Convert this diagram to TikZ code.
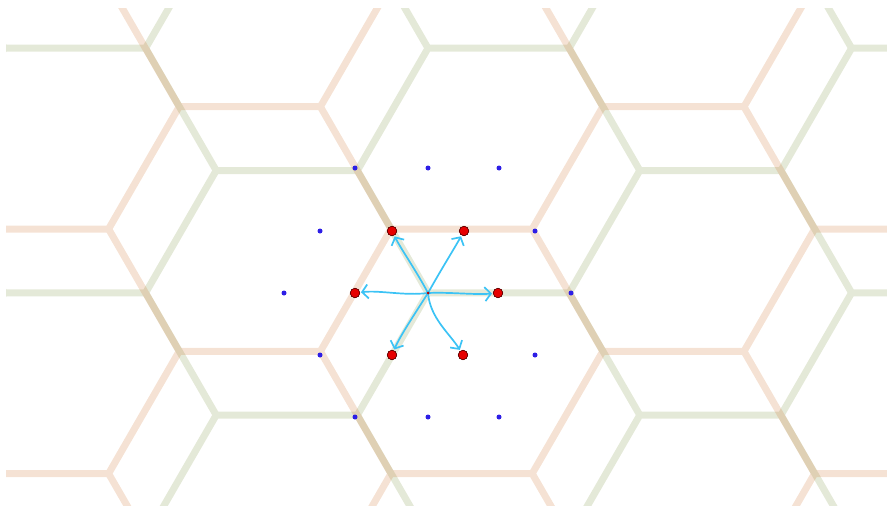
\documentclass[tikz,border=0pt]{standalone}
\usetikzlibrary{arrows.meta}
\definecolor{hexgreen}{RGB}{120,145,60}
\definecolor{hexorange}{RGB}{205,110,40}
\definecolor{arrowblue}{RGB}{60,195,245}
\definecolor{dotblue}{RGB}{45,30,230}
\definecolor{dotred}{RGB}{230,0,0}
\tikzset{
  hexline/.style={line width=7pt, opacity=0.2, line cap=butt, line join=miter},
  reddot/.style={circle, fill=dotred, draw=black!70!red, line width=0.5pt, minimum size=9.5pt, inner sep=0pt},
  bluedot/.style={circle, fill=dotblue, minimum size=5pt, inner sep=0pt},
  centerdot/.style={circle, fill=dotred!80!black, minimum size=3pt, inner sep=0pt},
  vecarrow/.style={draw=arrowblue, line width=1.7pt, line cap=round, -{Straight Barb[length=6pt,width=14pt,line width=1.7pt]}, shorten >=1pt}
}
\begin{document}
\begin{tikzpicture}[x=1pt,y=-1pt]
\useasboundingbox (0,0) rectangle (887,506);
\begin{scope}
\clip (6,8) rectangle (887,506);
% green honeycomb (edge 141.2, row step 122.3)
\draw[hexline, draw=hexgreen]
  \foreach \i in {-3,...,3} { \foreach \j in {-4,...,4} {
    ({428+211.8*\i-70.6},{292.8+122.3*\i+244.6*\j-122.3}) --
    ({428+211.8*\i},{292.8+122.3*\i+244.6*\j}) --
    ({428+211.8*\i+141.2},{292.8+122.3*\i+244.6*\j})
    ({428+211.8*\i},{292.8+122.3*\i+244.6*\j}) --
    ({428+211.8*\i-70.6},{292.8+122.3*\i+244.6*\j+122.3})
  }};
% orange honeycomb
\draw[hexline, draw=hexorange]
  \foreach \i in {-3,...,3} { \foreach \j in {-4,...,4} {
    ({391+211.8*\i-70.6},{229+122.3*\i+244.6*\j-122.3}) --
    ({391+211.8*\i},{229+122.3*\i+244.6*\j}) --
    ({391+211.8*\i+141.2},{229+122.3*\i+244.6*\j})
    ({391+211.8*\i},{229+122.3*\i+244.6*\j}) --
    ({391+211.8*\i-70.6},{229+122.3*\i+244.6*\j+122.3})
  }};
\end{scope}

% second ring (blue)
\foreach \n/\p in {b1/{355,168}, b2/{428,168}, b3/{499,168}, b4/{320,231}, b5/{535,231}, b6/{284,293},
                   b7/{571,293}, b8/{320,355}, b9/{535,355}, b10/{355,417}, b11/{428,417}, b12/{499,417}}
  \node[bluedot] (\n) at (\p) {};

% first ring (red) and centre
\node[centerdot] (c) at (428,293) {};
\node[reddot] (r0) at (498,293) {};
\node[reddot] (r60) at (464,231) {};
\node[reddot] (r120) at (392,231) {};
\node[reddot] (r180) at (355,293) {};
\node[reddot] (r240) at (392,355) {};
\node[reddot] (r300) at (463,355) {};

% vectors
\draw[vecarrow] (c.center) .. controls (450,292) and (475,295) .. (r0);
\draw[vecarrow] (c.center) .. controls (442,268) and (454,249) .. (r60);
\draw[vecarrow] (c.center) .. controls (417,272) and (401,249) .. (r120);
\draw[vecarrow] (c.center) .. controls (404,296) and (380,290) .. (r180);
\draw[vecarrow] (c.center) .. controls (416,312) and (400,336) .. (r240);
\draw[vecarrow] (c.center) .. controls (430,318) and (450,334) .. (r300);

% redraw dots on top
\node[reddot] at (r0) {};
\node[reddot] at (r60) {};
\node[reddot] at (r120) {};
\node[reddot] at (r180) {};
\node[reddot] at (r240) {};
\node[reddot] at (r300) {};
\node[centerdot] at (c) {};
\end{tikzpicture}
\end{document}
